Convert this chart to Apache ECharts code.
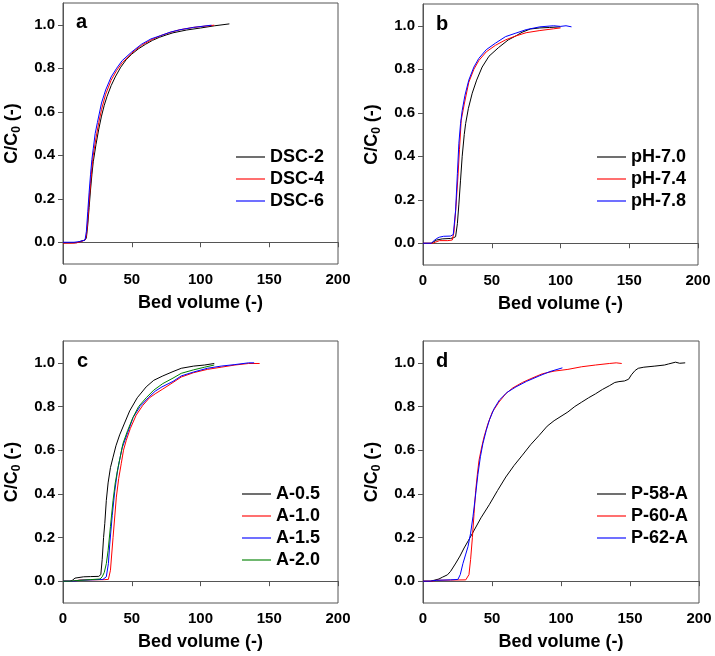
<!DOCTYPE html>
<html>
<head>
<meta charset="utf-8">
<script src="https://cdn.jsdelivr.net/npm/echarts@6/dist/echarts.min.js"></script>
<style>
html,body{margin:0;padding:0;background:#fff;}
#chart{width:715px;height:656px;}
</style>
</head>
<body>
<div id="chart"></div>
<script>
// ---------- data ----------
var xTicks = [0, 50, 100, 150, 200];
var yTicks = [0, 0.2, 0.4, 0.6, 0.8, 1.0];
var panelLetters = ['a', 'b', 'c', 'd'];
var xName = 'Bed volume (-)';

// panel a
var namesA = ['DSC-2', 'DSC-4', 'DSC-6'];
var dsc2 = [[0,-0.003],[5,-0.003],[10,-0.002],[13,0.005],[16,0.01],[17,0.02],[18,0.08],[19,0.16],[20,0.24],[21,0.31],[22,0.37],[24,0.45],[26,0.52],[28,0.58],[30,0.63],[32,0.67],[35,0.72],[38,0.76],[42,0.805],[46,0.84],[50,0.865],[55,0.89],[60,0.91],[65,0.928],[70,0.942],[75,0.953],[80,0.963],[90,0.976],[100,0.985],[110,0.995],[121,1.004]];
var dsc4 = [[0,-0.004],[8,-0.004],[12,0],[16,0.01],[17,0.03],[18,0.1],[19,0.19],[20,0.27],[21,0.34],[22,0.4],[24,0.48],[26,0.55],[28,0.61],[31,0.68],[35,0.745],[39,0.79],[43,0.825],[50,0.87],[57,0.905],[64,0.93],[71,0.95],[78,0.965],[85,0.977],[95,0.988],[110,0.998]];
var dsc6 = [[0,0],[8,0],[12,0.003],[16,0.01],[17,0.05],[18,0.14],[19,0.23],[20,0.31],[21,0.38],[22,0.43],[23.4,0.5],[25,0.55],[28,0.64],[31,0.7],[35,0.76],[39,0.8],[43,0.835],[50,0.875],[57,0.91],[64,0.935],[71,0.95],[78,0.966],[85,0.977],[95,0.988],[108,0.998]];

// panel b
var namesB = ['pH-7.0', 'pH-7.4', 'pH-7.8'];
var ph70 = [[0,0],[6,0],[8,0.008],[10,0.015],[14,0.02],[20,0.022],[22,0.025],[23.7,0.03],[25,0.09],[26.1,0.18],[27.3,0.29],[28.5,0.4],[30,0.5],[31,0.55],[33,0.62],[35.8,0.69],[39,0.75],[43,0.81],[48,0.86],[55,0.9],[62,0.935],[68,0.955],[72,0.97],[78,0.985],[85,0.99],[92,0.992],[100,0.995]];
var ph74 = [[0,0],[7,0],[9,0.005],[12,0.012],[18,0.012],[21.3,0.015],[22.5,0.05],[24,0.17],[25.4,0.305],[26.5,0.43],[27.8,0.566],[30,0.64],[33.3,0.74],[37,0.8],[40.6,0.84],[46,0.88],[52.7,0.91],[60,0.935],[67,0.952],[75,0.968],[85,0.978],[95,0.986],[100,0.99]];
var ph78 = [[0,0],[6,0],[8,0.012],[10,0.022],[12,0.028],[15,0.032],[20,0.033],[22,0.04],[23.7,0.15],[25,0.32],[26.1,0.46],[27.3,0.55],[28.5,0.61],[30.5,0.68],[33.3,0.75],[37,0.81],[40.6,0.85],[46,0.89],[52.7,0.92],[60,0.95],[67,0.965],[75,0.982],[85,0.995],[95,1.0],[100,0.997],[104,1.0],[108,0.995]];

// panel c
var namesC = ['A-0.5', 'A-1.0', 'A-1.5', 'A-2.0'];
var a05 = [[0,0],[5,0],[7,0.005],[8.7,0.014],[10,0.018],[15,0.02],[20,0.021],[26,0.022],[27.5,0.03],[28.5,0.1],[29.5,0.2],[30.4,0.265],[31.5,0.37],[32.8,0.45],[34.5,0.52],[36.4,0.568],[38.5,0.62],[41.2,0.67],[44.5,0.72],[48.5,0.78],[54,0.84],[60.5,0.89],[66,0.92],[72.6,0.94],[80,0.96],[86,0.975],[95,0.985],[103,0.99],[110,0.997]];
var a10 = [[0,0],[8,0],[12,0.005],[20,0.006],[30,0.007],[33,0.008],[34.5,0.05],[36.4,0.2],[38.8,0.385],[40.5,0.47],[42.4,0.54],[44,0.6],[46,0.645],[49,0.7],[53.2,0.76],[58,0.805],[62.9,0.84],[67.5,0.86],[72.6,0.88],[80,0.91],[86,0.935],[95,0.955],[105,0.97],[115,0.98],[125,0.99],[135,0.997],[143,0.997]];
var a15 = [[0,0],[8,0],[12,0.004],[20,0.006],[29,0.008],[31.5,0.02],[33,0.08],[34,0.17],[35.8,0.3],[37.6,0.41],[39.5,0.5],[41,0.55],[43,0.61],[47,0.68],[51,0.75],[56,0.8],[62,0.84],[67,0.87],[72,0.89],[80,0.915],[86,0.94],[95,0.958],[105,0.975],[115,0.985],[125,0.992],[135,1.0],[139,1.0]];
var a20 = [[0,0],[5,0],[10,0.003],[20,0.007],[27,0.01],[28.5,0.02],[30,0.04],[31.5,0.08],[32.8,0.14],[34.5,0.25],[36.4,0.37],[38,0.45],[40,0.52],[43.6,0.63],[47,0.69],[50.9,0.75],[55,0.8],[60.5,0.84],[66,0.875],[72.6,0.905],[80,0.93],[86,0.952],[95,0.968],[103,0.98],[110,0.99]];

// panel d
var namesD = ['P-58-A', 'P-60-A', 'P-62-A'];
var p58 = [[0,0],[5.5,0],[8,0.004],[11.6,0.01],[14,0.018],[17.7,0.029],[20,0.045],[23.8,0.083],[26.8,0.115],[29.8,0.152],[32.8,0.185],[35.9,0.22],[42,0.29],[48,0.35],[54,0.415],[60,0.477],[66,0.53],[72,0.577],[78,0.625],[84.2,0.668],[90,0.71],[95,0.735],[100,0.755],[105,0.775],[110,0.8],[115,0.82],[120,0.84],[125,0.858],[130,0.878],[135,0.895],[139,0.91],[142,0.914],[146,0.917],[149,0.925],[151,0.945],[153.7,0.965],[156,0.975],[160,0.98],[168,0.985],[175,0.99],[178,0.995],[183,1.003],[186,0.998],[190,1.0]];
var p60 = [[0,0],[7,0],[10,0.004],[20,0.005],[31,0.006],[32.3,0.012],[33.3,0.03],[34.5,0.1],[35.8,0.2],[37,0.31],[38.2,0.416],[39.4,0.49],[40.6,0.554],[42.4,0.61],[44.2,0.66],[47,0.72],[50.2,0.774],[55,0.82],[59.9,0.858],[65,0.885],[72,0.91],[79,0.93],[86.5,0.95],[95,0.962],[105,0.97],[115,0.982],[125,0.99],[135,0.997],[140,1.0],[144,0.997]];
var p62 = [[0,0],[5,0],[10,0.004],[20,0.006],[25.3,0.008],[27,0.03],[28.9,0.08],[30.8,0.12],[32.6,0.158],[34.5,0.22],[36.2,0.295],[38,0.39],[39.8,0.49],[41.6,0.57],[43.4,0.63],[45.8,0.69],[48.2,0.74],[51.5,0.79],[55.4,0.83],[61,0.865],[67.4,0.89],[75,0.915],[84.2,0.94],[92,0.96],[101,0.977]];

// ---------- build ----------
var FONT = '"Liberation Sans", Arial, sans-serif';
var AXC = '#555';
var grids = [
  {left: 61, top: 3, width: 277, height: 261},
  {left: 423, top: 4, width: 275, height: 261},
  {left: 62, top: 341, width: 276, height: 262},
  {left: 423, top: 341, width: 276, height: 262}
];
var panels = [
  {names: namesA, data: [dsc2, dsc4, dsc6], colors: ['#000000', '#ff0000', '#0000ff'], legend: {left: 236, top: 146}},
  {names: namesB, data: [ph70, ph74, ph78], colors: ['#000000', '#ff0000', '#0000ff'], legend: {left: 597, top: 146}},
  {names: namesC, data: [a05, a10, a15, a20], colors: ['#000000', '#ff0000', '#0000ff', '#008000'], legend: {left: 242, top: 483}},
  {names: namesD, data: [p58, p60, p62], colors: ['#000000', '#ff0000', '#0000ff'], legend: {left: 597, top: 483}}
];
var letterPos = [[76, 12], [436, 14], [77, 351], [436, 351]];

var option = {
  animation: false,
  backgroundColor: '#fff',
  textStyle: {fontFamily: FONT},
  grid: [], xAxis: [], yAxis: [], series: [], legend: [], graphic: []
};

panels.forEach(function (p, i) {
  var g = grids[i];
  option.grid.push({left: g.left, top: g.top, width: g.width, height: g.height, show: true, borderColor: AXC, borderWidth: 1, containLabel: false});
  option.xAxis.push({
    type: 'value', gridIndex: i, min: xTicks[0], max: xTicks[xTicks.length - 1], interval: 50,
    name: xName, nameLocation: 'middle', nameGap: 30,
    nameTextStyle: {fontSize: 18, fontWeight: 'bold', color: '#000', fontFamily: FONT},
    axisLine: {show: true, lineStyle: {color: AXC, width: 1}},
    axisTick: {show: true, length: 5, lineStyle: {color: AXC}},
    axisLabel: {fontSize: 15, fontWeight: 'bold', color: '#000', margin: 8, fontFamily: FONT},
    splitLine: {show: false}
  });
  option.yAxis.push({
    type: 'value', gridIndex: i, min: -0.1, max: 1.1,
    name: 'C/C{sub|0} (-)', nameLocation: 'middle', nameGap: 40, nameRotate: 90,
    nameTextStyle: {fontSize: 18, fontWeight: 'bold', color: '#000', fontFamily: FONT, lineHeight: 22,
      rich: {sub: {fontSize: 12, fontWeight: 'bold', color: '#000', fontFamily: FONT, lineHeight: 12, verticalAlign: 'bottom'}}},
    axisLine: {show: true, lineStyle: {color: AXC, width: 1}},
    axisTick: {show: true, length: 5, lineStyle: {color: AXC}, customValues: yTicks},
    axisLabel: {fontSize: 15, fontWeight: 'bold', color: '#000', margin: 8, fontFamily: FONT, customValues: yTicks,
      formatter: function (v) { return v.toFixed(1); }},
    splitLine: {show: false}
  });
  p.names.forEach(function (n, k) {
    option.series.push({
      type: 'line', name: n, xAxisIndex: i, yAxisIndex: i, data: p.data[k],
      showSymbol: false, symbol: 'none', smooth: false,
      lineStyle: {color: p.colors[k], width: 1}, itemStyle: {color: p.colors[k]}
    });
  });
  option.legend.push({
    data: p.names, left: p.legend.left, top: p.legend.top, orient: 'vertical',
    padding: 0, itemGap: 0, itemWidth: 29, itemHeight: 1.5, icon: 'rect',
    itemStyle: {opacity: 0.75},
    textStyle: {fontSize: 18, fontWeight: 'bold', color: '#000', fontFamily: FONT, lineHeight: 22}
  });
  option.graphic.push({
    type: 'text', left: letterPos[i][0], top: letterPos[i][1],
    style: {text: panelLetters[i], font: 'bold 20px ' + FONT, fill: '#000'}
  });
});

var chart = echarts.init(document.getElementById('chart'), null, {renderer: 'canvas'});
chart.setOption(option);
</script>
</body>
</html>
